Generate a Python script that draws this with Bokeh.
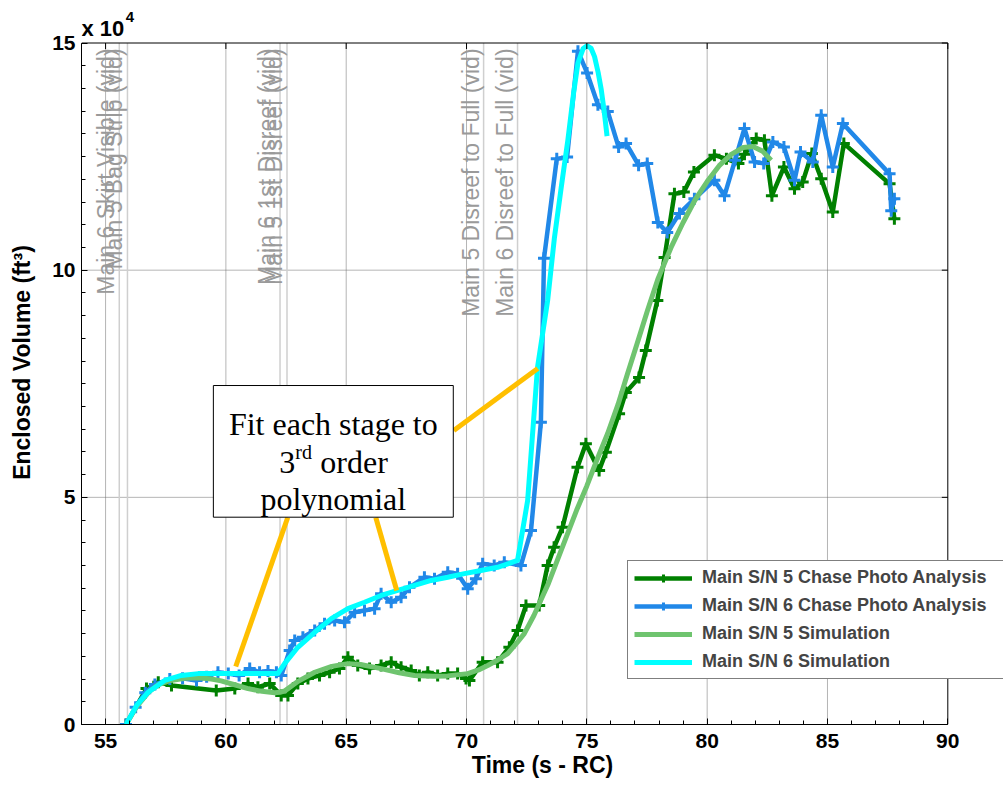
from bokeh.plotting import figure
from bokeh.embed import file_html
from bokeh.resources import INLINE
from bokeh.models import (ColumnDataSource, Range1d, FixedTicker, Legend, LegendItem)
from bokeh.core.properties import value
import numpy as np

# Main S/N 5 chase photo analysis (time s, volume ft3)
t_p5 = [55.85, 56.7, 57.19, 57.74, 59.6, 60.37, 60.92, 61.33, 61.82, 62.3, 62.58,
        62.99, 63.41, 63.89, 64.31, 64.72, 65.07, 65.48, 65.97, 66.45, 66.87, 67.28,
        67.7, 68.04, 68.39, 68.8, 69.22, 69.63, 69.98, 70.12, 70.67, 71.29, 71.78,
        72.12, 72.47, 73.02, 73.37, 73.64, 73.99, 74.61, 74.96, 75.51, 75.79, 76.34,
        76.62, 77.17, 77.45, 77.93, 78.23, 78.64, 79.03, 79.45, 80.3, 80.8, 81.3,
        81.55, 82.04, 82.38, 82.69, 83.19, 83.63, 83.97, 84.35, 84.74, 85.22, 85.68,
        87.58, 87.78]
v_p5 = [0, 7900, 9300, 8600, 7500, 7900, 9000, 8200, 9000, 6400, 6400,
        9000, 10100, 10800, 11500, 12300, 14800, 13000, 12300, 13000, 13700, 12600,
        11900, 10800, 11500, 10800, 11200, 11200, 10100, 9700, 13700, 13700, 17000,
        20700, 26200, 26200, 35000, 39000, 43400, 56600, 61800, 55900, 59900, 68400,
        73100, 76400, 82300, 93300, 102800, 116800, 117200, 121600, 125300, 124500, 123500,
        125500, 129000, 128600, 116400, 122700, 117900, 119400, 125700, 120100, 112800, 127900,
        119000, 111300]

# Main S/N 6 chase photo analysis
t_p6 = [55.85, 56.25, 56.65, 57.05, 57.67, 58.2, 58.78, 59.2, 59.67, 60.1, 60.55,
        60.99, 61.4, 61.75, 62.1, 62.3, 62.65, 62.86, 63.2, 63.69, 64.1, 64.52,
        64.93, 65.35, 65.76, 66.18, 66.45, 66.87, 67.28, 67.63, 68.25, 68.67, 69.22,
        69.63, 70.05, 70.39, 70.67, 71.15, 71.57, 72.26, 72.68, 73.09, 73.22, 73.75,
        74.18, 74.63, 75.01, 75.46, 75.87, 76.32, 76.63, 77.15, 77.51, 77.95, 78.34,
        78.85, 79.47, 80.3, 80.72, 81.16, 81.55, 81.97, 82.35, 82.73, 83.19, 83.63,
        83.88, 84.39, 84.74, 85.22, 85.64, 87.58, 87.65, 87.78]
v_p6 = [0, 3800, 7000, 8800, 10000, 10200, 9700, 10500, 11500, 11200, 10800,
        12300, 11500, 11800, 11500, 10800, 16300, 18500, 19200, 20700, 22200, 22900,
        22500, 24700, 25100, 25500, 28800, 26900, 28000, 30200, 32400, 32100, 33500,
        33200, 29900, 32100, 35400, 35000, 35700, 35000, 42700, 66500, 102600, 124500,
        124900, 148200, 143400, 136400, 134900, 127100, 127900, 123100, 123500, 110500, 108300,
        112500, 115700, 119800, 116400, 124200, 131200, 123800, 123500, 128200, 127100, 119800,
        126000, 123800, 134100, 122700, 132300, 121200, 113100, 115700]

# Main S/N 5 simulation (staged 3rd order fits)
t_s5 = [55.85, 56.3, 56.8, 57.2, 57.7, 58.3, 58.85, 59.4, 59.8, 60.4, 60.92, 61.5,
        62.03, 62.25, 62.45, 63.0, 63.69, 64.4, 65.07, 65.6, 66.45, 67.2, 67.84,
        68.6, 69.22, 70.05, 70.5, 70.88, 71.3, 71.71, 72.1, 72.4, 72.8, 73.1, 73.4,
        73.8, 74.2, 74.6, 75.0, 75.4, 75.86, 76.3, 76.69, 77.1, 77.52, 77.95, 78.5,
        79.0, 79.5, 80.0, 80.5, 81.0, 81.5, 81.9, 82.3, 82.66]
v_s5 = [0, 4000, 7200, 8800, 9700, 10200, 10300, 10000, 9600, 8700, 7900, 7300,
        7000, 7100, 7400, 9500, 11500, 12800, 13400, 13200, 12300, 11400, 10800,
        10600, 10700, 11200, 12000, 13000, 14200, 15600, 18000, 20000, 24000, 27500, 31000,
        36500, 42000, 47500, 52500, 58000, 64000, 70500, 77200, 84000, 91100, 98000, 105000,
        110500, 115500, 119500, 123000, 125500, 127000, 127200, 126200, 124200]

# Main S/N 6 simulation (staged 3rd order fits)
t_s6 = [55.85, 56.29, 56.77, 57.46, 58.15, 58.85, 60.23, 61.61, 62.16, 62.44, 62.99,
        63.69, 64.38, 65.07, 65.76, 66.45, 67.14, 67.84, 68.53, 69.22, 69.91, 70.6,
        71.29, 72.12, 72.54, 72.95, 73.37, 73.65, 73.93, 74.21, 74.45, 74.63, 74.85,
        75.01, 75.18, 75.32, 75.47, 75.6, 75.72, 75.84]
v_s6 = [0, 4200, 7100, 9700, 10800, 11200, 11200, 11200, 11200, 13400, 17000,
        20300, 23300, 25500, 26900, 28400, 29500, 30600, 31700, 32400, 33200, 33900,
        34600, 36100, 49300, 78600, 93300, 107000, 118000, 128600, 139000, 145600, 148800,
        149400, 148800, 147000, 143500, 139700, 135000, 129500]

# video events: time, label
event_t = [55.57, 55.91, 62.25, 62.54, 70.71, 72.12]
event_txt = ["Main 6 Skirt Visible (vid)", "Main 5 Bag Strip (vid)",
             "Main 6 1st Disreef (vid)", "Main 5 1st Disreef (vid)",
             "Main 5 Disreef to Full (vid)", "Main 6 Disreef to Full (vid)"]

# callout box and its three pointer lines
box_lrbt = [59.48, 69.45, 45630, 74610]
ptr_x0 = [62.57, 66.23, 69.47]
ptr_y0 = [45560, 45560, 64710]
ptr_x1 = [60.41, 67.1, 72.96]
ptr_y1 = [12770, 29490, 78360]

x_min, x_max = 54, 90
y_min, y_max = 0, 150000
x_ticks = [55, 60, 65, 70, 75, 80, 85, 90]
y_ticks = [0, 50000, 100000, 150000]
y_tick_labels = ["0", "5", "10", "15"]

GREEN = "#008000"
BLUE = "#2188e8"
LGREEN = "#6fc46f"
CYAN = "#00ffff"
ORANGE = "#ffbf00"
FONT = "Liberation Sans"

# frame runs to the right and top edge of the canvas so the legend and the
# scale label are not clipped; the axes box is drawn at 54..90 / 0..15e4
px_per_s = 866.3 / (x_max - x_min)
px_per_v = 681.5 / (y_max - y_min)
fw, fh = 922, 724
p = figure(x_range=Range1d(x_min, x_min + fw / px_per_s),
           y_range=Range1d(y_min, y_min + fh / px_per_v),
           frame_width=fw, frame_height=fh,
           min_border_left=81, min_border_right=0, min_border_top=0, min_border_bottom=50,
           output_backend="svg", toolbar_location=None)
p.outline_line_color = None
p.xgrid.visible = False
p.ygrid.visible = False

xt = FixedTicker(ticks=x_ticks, minor_ticks=list(range(x_min, x_max + 1)))
yt = FixedTicker(ticks=y_ticks, minor_ticks=list(np.arange(y_min, y_max + 1, 5000)))
p.xaxis.ticker = xt
p.yaxis.ticker = yt
p.xaxis.bounds = (x_min, x_max)
p.yaxis.bounds = (y_min, y_max)
p.yaxis.major_label_overrides = {t: s for t, s in zip(y_ticks, y_tick_labels)}
for ax in [p.xaxis[0], p.yaxis[0]]:
    ax.major_tick_in = 6
    ax.major_tick_out = 0
    ax.minor_tick_in = 4
    ax.minor_tick_out = 0
    ax.axis_line_color = "black"
    ax.major_tick_line_color = "black"
    ax.minor_tick_line_color = "black"
    ax.major_label_text_font = FONT
    ax.major_label_text_font_style = "bold"
    ax.major_label_text_font_size = "21px"
    ax.major_label_text_color = "black"
    ax.axis_label_text_font = FONT
    ax.axis_label_text_font_style = "bold"
    ax.axis_label_text_font_size = "23px"
    ax.axis_label_text_color = "black"
p.xaxis.axis_label = "Time (s - RC)"
p.yaxis.axis_label = "Enclosed Volume (ft³)"
p.xaxis.major_label_standoff = 9
p.xaxis.axis_label_standoff = 1
p.yaxis.major_label_standoff = 6
p.yaxis.axis_label_standoff = 14

# dotted grid at the major ticks, inside the box only
gx = [t for t in x_ticks if x_min < t < x_max]
gy = [t for t in y_ticks if y_min < t < y_max]
p.segment(x0=gx, x1=gx, y0=y_min, y1=y_max, line_color="#6a6a6a", line_dash="1 1")
p.segment(x0=x_min, x1=x_max, y0=gy, y1=gy, line_color="#6a6a6a", line_dash="1 1")

# event lines and rotated labels
p.segment(x0=event_t, x1=event_t, y0=y_min, y1=y_max, line_color="#cfcfcf", line_width=1.5)
ev = ColumnDataSource(dict(x=event_t, y=[148800] * len(event_t), txt=event_txt))
p.text(x="x", y="y", text="txt", source=ev, angle=np.pi / 2,
       text_align="right", text_baseline="bottom", text_color="#9a9a9a",
       text_font=value(FONT), text_font_size="23px")

# data
src5 = ColumnDataSource(dict(x=t_p5, y=v_p5))
src6 = ColumnDataSource(dict(x=t_p6, y=v_p6))
l5 = p.line("x", "y", source=src5, line_color=GREEN, line_width=4.5, line_join="round")
m5 = p.scatter("x", "y", source=src5, marker="cross", size=12, line_color=GREEN, line_width=3)
l6 = p.line("x", "y", source=src6, line_color=BLUE, line_width=4.5, line_join="round")
m6 = p.scatter("x", "y", source=src6, marker="cross", size=12, line_color=BLUE, line_width=3)
s5 = p.line(t_s5, v_s5, line_color=LGREEN, line_width=5, line_join="round")
s6 = p.line(t_s6, v_s6, line_color=CYAN, line_width=5, line_join="round")

# top and right sides of the box, with inward major ticks
p.segment(x0=[x_min, x_max], y0=[y_max, y_min], x1=[x_max, x_max], y1=[y_max, y_max],
          line_color="black", line_width=1)
p.ray(x=x_ticks, y=y_max, length=6, length_units="screen", angle=-np.pi / 2,
      line_color="black")
p.ray(x=x_max, y=y_ticks, length=6, length_units="screen", angle=np.pi,
      line_color="black")

# scale factor of the y axis
p.text(x=[54.0], y=[153300], text=["x 10"], text_font=value(FONT), text_font_style="bold",
       text_font_size="22px", text_baseline="alphabetic", text_color="black")
p.text(x=[55.84], y=[155800], text=["4"], text_font=value(FONT), text_font_style="bold",
       text_font_size="15px", text_baseline="alphabetic", text_color="black")

# callout
p.segment(x0=ptr_x0, y0=ptr_y0, x1=ptr_x1, y1=ptr_y1, line_color=ORANGE, line_width=5)
p.quad(left=[box_lrbt[0]], right=[box_lrbt[1]], bottom=[box_lrbt[2]], top=[box_lrbt[3]],
       fill_color="white", line_color="black", line_width=1)
cx = (box_lrbt[0] + box_lrbt[1]) / 2
serif = value("Liberation Serif")
p.text(x=[cx], y=[66180], text=["Fit each stage to"], text_align="center",
       text_baseline="alphabetic", text_font=serif, text_font_size="32px", text_color="black")
p.text(x=[cx], y=[57730], text=["3"], x_offset=-54, text_align="left",
       text_baseline="alphabetic", text_font=serif, text_font_size="32px", text_color="black")
p.text(x=[cx], y=[59870], text=["rd"], x_offset=-38, text_align="left",
       text_baseline="alphabetic", text_font=serif, text_font_size="20px", text_color="black")
p.text(x=[cx], y=[57730], text=["order"], x_offset=-13, text_align="left",
       text_baseline="alphabetic", text_font=serif, text_font_size="32px", text_color="black")
p.text(x=[cx], y=[49680], text=["polynomial"], text_align="center",
       text_baseline="alphabetic", text_font=serif, text_font_size="32px", text_color="black")

# legend
legend = Legend(items=[
    LegendItem(label="Main S/N 5 Chase Photo Analysis", renderers=[l5, m5]),
    LegendItem(label="Main S/N 6 Chase Photo Analysis", renderers=[l6, m6]),
    LegendItem(label="Main S/N 5 Simulation", renderers=[s5]),
    LegendItem(label="Main S/N 6 Simulation", renderers=[s6]),
], location=(546, 45))
legend.border_line_color = "black"
legend.border_line_width = 1
legend.background_fill_color = "white"
legend.background_fill_alpha = 1
legend.label_text_font = FONT
legend.label_text_font_style = "bold"
legend.label_text_font_size = "18px"
legend.glyph_width = 58
legend.glyph_height = 20
legend.label_height = 20
legend.label_width = 310
legend.spacing = 7
legend.padding = 6
legend.label_standoff = 10
legend.margin = 0
p.add_layout(legend)

open("out.html", "w").write(file_html(p, INLINE))
